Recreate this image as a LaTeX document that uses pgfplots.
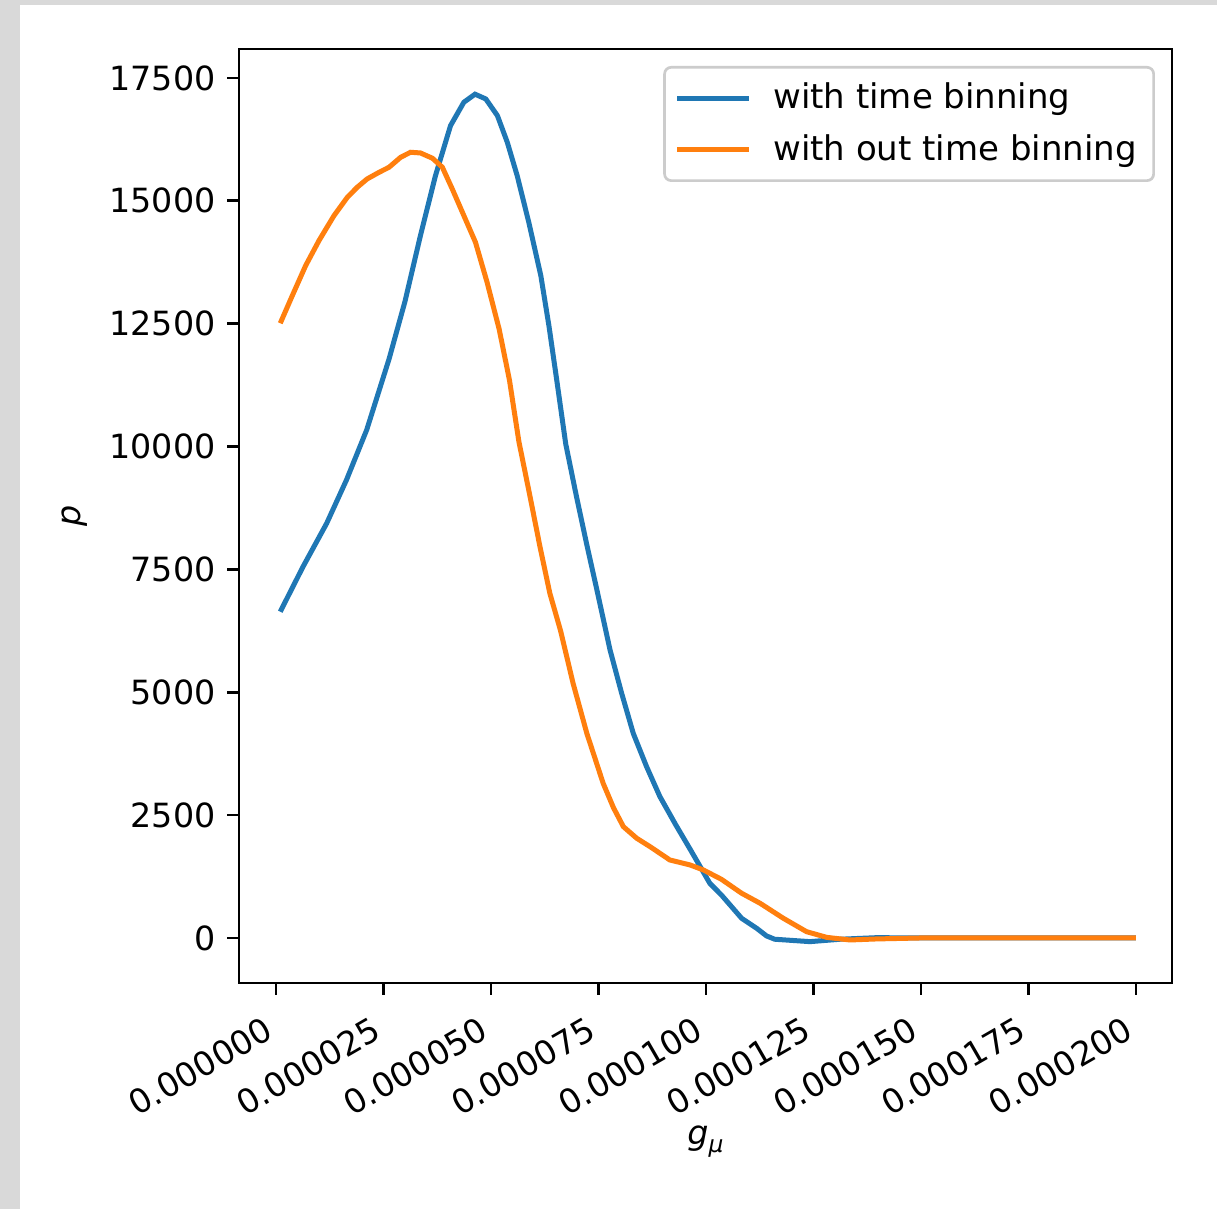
\documentclass[border=0pt]{standalone}
\usepackage{fontspec}
\setmainfont{DejaVu Sans}
\usepackage{pgfplots}
\pgfplotsset{compat=1.18}

\definecolor{mplblue}{HTML}{1F77B4}
\definecolor{mplorange}{HTML}{FF7F0E}
\definecolor{pagegray}{HTML}{D9D9D9}
\definecolor{legendedge}{HTML}{CCCCCC}

% g_mu is given in units of 1e-6
\pgfplotstableread{
x      p
1.0    6640
6.3    7556
11.8   8438
16.4   9320
21.1   10338
26.3   11780
30.0   12950
33.6   14292
37.1   15513
40.6   16530
43.7   17006
46.3   17170
48.8   17073
51.5   16734
53.8   16192
56.1   15513
58.8   14564
61.6   13478
63.5   12450
65.3   11355
67.4   10050
69.9   8980
72.3   8000
74.6   7100
77.7   5861
80.4   4979
83.1   4164
86.2   3486
89.3   2876
93.0   2300
96.5   1780
100.9  1113
103.6  875
108.3  401
111.8  197
114.1  41
116.0  -26
124.2  -75
131.2  -26
139.7  6
150.0  0
175.0  0
200.0  0
}\withbinning

\pgfplotstableread{
x      p
1.0    12509
3.8    13071
6.9    13681
10.0   14190
13.5   14699
16.6   15072
18.9   15276
21.2   15445
24.0   15581
26.3   15683
29.0   15886
31.3   15988
33.6   15974
36.4   15866
38.7   15683
41.0   15242
43.7   14699
46.4   14157
49.1   13343
51.9   12393
54.3   11355
56.5   10100
59.1   8980
61.4   7963
63.7   7014
66.2   6250
69.1   5183
72.3   4164
76.1   3147
78.5   2650
80.8   2265
83.9   2029
87.0   1858
89.3   1723
91.6   1587
96.3   1486
99.4   1384
103.6  1194
108.3  910
112.6  706
118.0  401
123.4  128
128.1  12
133.5  -41
139.7  -20
150.0  0
175.0  0
200.0  0
}\withoutbinning

\begin{document}
\begin{tikzpicture}
\useasboundingbox (-71.7pt,-67.8pt) rectangle (293.4pt,294.9pt);
\fill[pagegray] (-71.7pt,-67.8pt) rectangle (293.4pt,294.9pt);
\fill[white] (-65.7pt,-67.8pt) rectangle (293.4pt,293.4pt);
\begin{axis}[
  at={(0pt,0pt)}, anchor=south west,
  scale only axis, width=279.9pt, height=280.2pt,
  xmin=-8.6, xmax=208.4, ymin=-916, ymax=18090,
  axis line style={line width=0.8pt},
  tick pos=left, tick align=outside,
  major tick length=3.5pt,
  every tick/.style={black, line width=0.8pt},
  xtick={0,25,50,75,100,125,150,175,200},
  xticklabels={0.000000,0.000025,0.000050,0.000075,0.000100,0.000125,0.000150,0.000175,0.000200},
  xticklabel style={rotate=30, anchor=north east, xshift=-3pt, font=\fontsize{10}{12}\selectfont},
  ytick={0,2500,5000,7500,10000,12500,15000,17500},
  /pgf/number format/assume math mode=true,
  yticklabel style={/pgf/number format/1000 sep={}, /pgf/number format/fixed, font=\fontsize{10}{12}\selectfont},
  scaled y ticks=false,
  xlabel={\textit{g}\raisebox{-0.45ex}{\fontsize{7}{8}\selectfont\textit{μ}}},
  ylabel={\textit{p}},
  xlabel style={at={(axis description cs:0.5,-0.17)}, anchor=center, font=\fontsize{10}{12}\selectfont},
  ylabel style={at={(axis description cs:-0.1757,0.5)}, anchor=center, font=\fontsize{10}{12}\selectfont},
  legend cell align=left,
  legend style={at={(axis description cs:1,1)}, anchor=north east,
    xshift=-5.1pt, yshift=-5.1pt, draw=legendedge, line width=0.8pt,
    rounded corners=2pt, fill=white, font=\fontsize{10.2}{12}\selectfont,
    inner xsep=3pt, inner ysep=2.6pt, row sep=2.3pt},
  legend image code/.code={%
    \draw[#1, line width=1.5pt] (0pt,0pt) -- (21.6pt,0pt);},
]
\addplot[mplblue, line width=1.5pt] table[x=x, y=p] {\withbinning};
\addlegendentry{\hspace{4.5pt}with time binning}
\addplot[mplorange, line width=1.5pt] table[x=x, y=p] {\withoutbinning};
\addlegendentry{\hspace{4.5pt}with out time binning}
\end{axis}
\end{tikzpicture}
\end{document}
